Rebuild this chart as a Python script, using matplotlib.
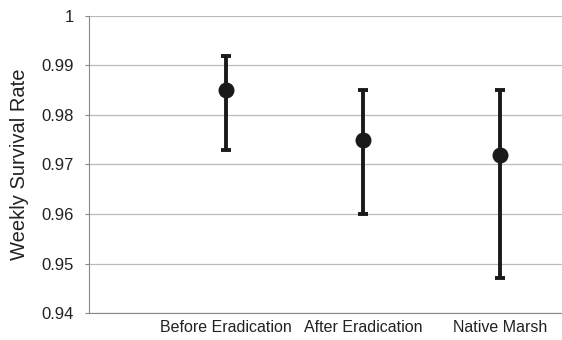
import numpy as np
import matplotlib
matplotlib.use("Agg")
import matplotlib.pyplot as plt

plt.rcParams["font.family"] = ["Liberation Sans", "DejaVu Sans"]

# Data
categories = ["Before Eradication", "After Eradication", "Native Marsh"]
survival = [0.985, 0.975, 0.972]
upper = [0.992, 0.985, 0.985]
lower = [0.973, 0.960, 0.947]
yticks = [0.94, 0.95, 0.96, 0.97, 0.98, 0.99, 1.0]
ytick_labels = ["0.94", "0.95", "0.96", "0.97", "0.98", "0.99", "1"]

x = np.arange(1, len(categories) + 1)
err = [np.array(survival) - np.array(lower), np.array(upper) - np.array(survival)]

fig = plt.figure(figsize=(5.62, 3.4), dpi=100)
ax = fig.add_axes([0.1584, 0.0794, 0.8416, 0.8736])

ax.errorbar(x, survival, yerr=err, fmt="o", color="#1a1a1a", ecolor="#1a1a1a",
            elinewidth=2.8, capsize=3.5, capthick=2.8, markersize=10.5, zorder=3)

ax.set_xlim(0, 3.45)
ax.set_ylim(0.94, 1.0)
ax.set_yticks(yticks)
ax.set_yticklabels(ytick_labels, fontsize=12, color="#222222")
ax.set_xticks(x)
ax.set_xticklabels(categories, fontsize=11.5, color="#222222")
ax.tick_params(axis="x", length=0, pad=5)
ax.tick_params(axis="y", length=3, width=0.8, color="#888888", pad=8)

ax.yaxis.grid(True, color="#bbbbbb", linewidth=0.9)
ax.set_axisbelow(True)
for side in ["top", "right"]:
    ax.spines[side].set_visible(False)
ax.spines["left"].set_color("#888888")
ax.spines["bottom"].set_color("#888888")

ax.set_ylabel("Weekly Survival Rate", fontsize=14.5, color="#222222", labelpad=9)

fig.savefig("out.png", dpi=100)
